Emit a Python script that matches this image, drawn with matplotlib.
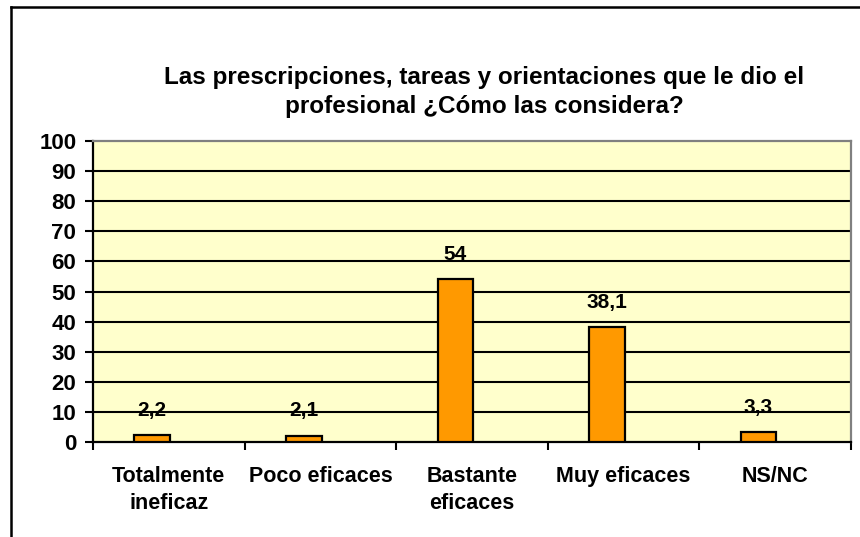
import matplotlib
matplotlib.use("Agg")
import matplotlib.pyplot as plt
from matplotlib.lines import Line2D
import numpy as np

categories = ["Totalmente\nineficaz", "Poco eficaces", "Bastante\neficaces", "Muy eficaces", "NS/NC"]
values = [2.2, 2.1, 54, 38.1, 3.3]
value_labels = ["2,2", "2,1", "54", "38,1", "3,3"]
yticks = list(range(0, 101, 10))
title = "Las prescripciones, tareas y orientaciones que le dio el\nprofesional ¿Cómo las considera?"

plt.rcParams['font.family'] = ['Liberation Sans', 'DejaVu Sans']
FS_TITLE = 17.5
FS_TICK = 16
FS_CAT = 15.5
FS_VAL = 15

W, H = 860, 537
fig = plt.figure(figsize=(W / 100, H / 100), dpi=100)
fig.patch.set_facecolor("white")

L, R, T, B = 93, 851, 141, 442
ax = fig.add_axes([L / W, 1 - B / H, (R - L) / W, (B - T) / H])
ax.set_facecolor("#FFFFCC")

x = np.arange(len(values))
bw = 0.235
offset = -0.11
ax.bar(x + offset, values, width=bw, color="#FF9900", edgecolor="black", linewidth=1.6, zorder=3)
for xi, v, lab in zip(x, values, value_labels):
    ax.annotate(lab, (xi + offset, v), xytext=(0, 18), textcoords="offset points",
                ha="center", va="center", fontsize=FS_VAL, fontweight="bold", zorder=4)

ax.set_xlim(-0.5, len(values) - 0.5)
ax.set_ylim(0, 100)
ax.set_yticks(yticks)
ax.set_yticklabels([str(t) for t in yticks], fontsize=FS_TICK, fontweight="bold")
for t in yticks[1:-1]:
    ax.axhline(t, color="black", linewidth=1.5, zorder=1)

ax.set_xticks(np.arange(-0.5, len(values) + 0.5, 1.0))
ax.set_xticklabels([])
ax.set_xticks(x, minor=True)
ax.set_xticklabels(categories, minor=True, fontsize=FS_CAT, fontweight="bold", linespacing=1.4)
ax.tick_params(axis="x", which="minor", length=0, pad=17)
ax.tick_params(axis="x", which="major", length=6, width=1.5, direction="out")
ax.tick_params(axis="y", length=6, width=1.5, direction="out", pad=6)

ax.spines["left"].set_color("black")
ax.spines["left"].set_linewidth(1.6)
ax.spines["bottom"].set_color("black")
ax.spines["bottom"].set_linewidth(1.6)
ax.spines["top"].set_color("#808080")
ax.spines["top"].set_linewidth(1.6)
ax.spines["right"].set_color("#808080")
ax.spines["right"].set_linewidth(1.6)

fig.text(484 / W, 1 - 92 / H, title, ha="center", va="center", fontsize=FS_TITLE,
         fontweight="bold", linespacing=1.3)

# outer chart frame (partially cropped)
fig.add_artist(Line2D([11 / W, 11 / W], [0, 1 - 7 / H], color="black", linewidth=1.8, transform=fig.transFigure))
fig.add_artist(Line2D([11 / W, 1], [1 - 7 / H, 1 - 7 / H], color="black", linewidth=1.8, transform=fig.transFigure))

fig.savefig("out.png", dpi=100)
